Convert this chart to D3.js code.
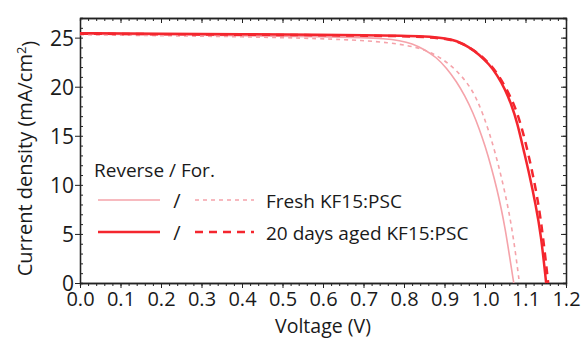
<!DOCTYPE html>
<html>
<head>
<meta charset="utf-8">
<script src="https://cdn.jsdelivr.net/npm/d3@7"></script>
<style>
  body { margin: 0; background: #fff; }
  svg text { font-family: "Open Sans", sans-serif; fill: #1a1a1a; }
  .axis path, .axis line { stroke: #222; }
</style>
</head>
<body>
<script>
// J-V curves, voltage (V) and current density (mA/cm2)
var freshRevV = [0, 0.2, 0.4, 0.6, 0.7, 0.75, 0.79, 0.82, 0.85, 0.88, 0.905, 0.93, 0.95, 0.971, 0.985, 1.0, 1.015, 1.03, 1.04, 1.05, 1.06, 1.071];
var freshRevJ = [25.35, 25.3, 25.2, 25.1, 25.0, 24.9, 24.7, 24.4, 23.8, 23.0, 21.9, 20.5, 19.1, 17.3, 15.8, 14.0, 11.9, 9.5, 7.6, 5.5, 2.9, 0];

var freshForV = [0, 0.2, 0.4, 0.6, 0.7, 0.76, 0.81, 0.85, 0.885, 0.915, 0.94, 0.963, 0.98, 0.995, 1.01, 1.025, 1.04, 1.055, 1.065, 1.075, 1.085];
var freshForJ = [25.3, 25.2, 25.1, 24.9, 24.7, 24.5, 24.2, 23.8, 23.1, 22.2, 21.2, 20.0, 18.7, 17.2, 15.4, 13.3, 10.9, 8.1, 5.9, 3.2, 0];

var agedRevV = [0, 0.2, 0.4, 0.6, 0.7, 0.8, 0.85, 0.9, 0.93, 0.96, 0.985, 1.01, 1.03, 1.05, 1.065, 1.08, 1.095, 1.11, 1.125, 1.138, 1.151];
var agedRevJ = [25.45, 25.4, 25.35, 25.3, 25.25, 25.2, 25.12, 24.95, 24.7, 24.05, 23.3, 22.3, 21.2, 19.7, 18.2, 16.3, 13.6, 11.0, 8.0, 5.0, 0];

var agedForV = [0, 0.2, 0.4, 0.6, 0.7, 0.8, 0.85, 0.9, 0.93, 0.96, 0.985, 1.01, 1.03, 1.05, 1.065, 1.08, 1.095, 1.11, 1.125, 1.14, 1.156];
var agedForJ = [25.4, 25.35, 25.3, 25.25, 25.2, 25.15, 25.07, 24.9, 24.65, 24.05, 23.35, 22.4, 21.4, 20.0, 18.8, 17.3, 15.2, 12.6, 9.7, 6.0, 0];

var seriesNames = ["Fresh KF15:PSC", "20 days aged KF15:PSC"];
var xTicks = [0, 0.1, 0.2, 0.3, 0.4, 0.5, 0.6, 0.7, 0.8, 0.9, 1.0, 1.1, 1.2];
var yTicks = [0, 5, 10, 15, 20, 25];

var width = 584, height = 340;
var margin = {left: 80, right: 18, top: 18, bottom: 57};
var w = width - margin.left - margin.right;
var h = height - margin.top - margin.bottom;

var freshColor = "#f5a3aa", agedColor = "#f4262e";

var svg = d3.select("body").append("svg").attr("width", width).attr("height", height);
var g = svg.append("g").attr("transform", "translate(" + margin.left + "," + margin.top + ")");

var x = d3.scaleLinear().domain([0, 1.2]).range([0, w]);
var y = d3.scaleLinear().domain([0, 27]).range([h, 0]);

var xMinor = d3.range(0, 1.2001, 0.02);
var yMinor = d3.range(0, 27.001, 1);

// minor ticks
g.append("g").attr("class", "axis").attr("transform", "translate(0," + h + ")")
  .call(d3.axisBottom(x).tickValues(xMinor).tickSize(3).tickFormat(""));
g.append("g").attr("class", "axis")
  .call(d3.axisLeft(y).tickValues(yMinor).tickSize(-3).tickFormat(""));
g.append("g").attr("class", "axis")
  .call(d3.axisTop(x).tickValues(xMinor).tickSize(-3).tickFormat(""));
g.append("g").attr("class", "axis").attr("transform", "translate(" + w + ",0)")
  .call(d3.axisRight(y).tickValues(yMinor).tickSize(-3).tickFormat(""));

// major ticks
g.append("g").attr("class", "axis x").attr("transform", "translate(0," + h + ")")
  .call(d3.axisBottom(x).tickValues(xTicks).tickSize(5).tickSizeOuter(0).tickFormat(d3.format(".1f")))
  .call(function(a){ a.selectAll("text").attr("y", 9).attr("dy", "0.71em").style("font-size", "20px"); });
g.append("g").attr("class", "axis y")
  .call(d3.axisLeft(y).tickValues(yTicks).tickSize(5).tickSizeOuter(0))
  .call(function(a){ a.selectAll("text").attr("x", -6).attr("dy", "0.36em").style("font-size", "21px"); });
g.append("g").attr("class", "axis")
  .call(d3.axisTop(x).tickValues(xTicks).tickSize(-5).tickSizeOuter(0).tickFormat(""));
g.append("g").attr("class", "axis").attr("transform", "translate(" + w + ",0)")
  .call(d3.axisRight(y).tickValues(yTicks).tickSize(-5).tickSizeOuter(0).tickFormat(""));
g.selectAll(".axis path").attr("stroke-width", 1.3);

var line = d3.line()
  .x(function(d){ return x(d[0]); })
  .y(function(d){ return y(d[1]); })
  .curve(d3.curveBasis);

function pairs(vs, js) { return vs.map(function(v, i){ return [v, js[i]]; }); }

var curves = [
  {data: pairs(freshRevV, freshRevJ), color: freshColor, width: 1.6, dash: null},
  {data: pairs(freshForV, freshForJ), color: freshColor, width: 1.6, dash: "4,4"},
  {data: pairs(agedRevV, agedRevJ), color: agedColor, width: 2.5, dash: null},
  {data: pairs(agedForV, agedForJ), color: agedColor, width: 2.5, dash: "8,6"}
];

g.selectAll("path.curve").data(curves).enter().append("path")
  .attr("class", "curve")
  .attr("d", function(d){ return line(d.data); })
  .attr("fill", "none")
  .attr("stroke", function(d){ return d.color; })
  .attr("stroke-width", function(d){ return d.width; })
  .attr("stroke-dasharray", function(d){ return d.dash; });

// legend
var lg = svg.append("g");
lg.append("text").attr("x", 94).attr("y", 177).style("font-size", "19px").text("Reverse /  For.");
var rows = [
  {name: seriesNames[0], color: freshColor, width: 1.6, dash: "4,4", y: 200},
  {name: seriesNames[1], color: agedColor, width: 2.5, dash: "8,6", y: 232}
];
rows.forEach(function(r){
  lg.append("line").attr("x1", 98).attr("x2", 160).attr("y1", r.y).attr("y2", r.y)
    .attr("stroke", r.color).attr("stroke-width", r.width);
  lg.append("text").attr("x", 177).attr("y", r.y + 8).attr("text-anchor", "middle")
    .style("font-size", "20px").text("/");
  lg.append("line").attr("x1", 195).attr("x2", 254).attr("y1", r.y).attr("y2", r.y)
    .attr("stroke", r.color).attr("stroke-width", r.width).attr("stroke-dasharray", r.dash);
  lg.append("text").attr("x", 266).attr("y", r.y + 8).style("font-size", "19px").text(r.name);
});

// axis titles
svg.append("text").attr("text-anchor", "middle")
  .attr("x", margin.left + w / 2).attr("y", 333)
  .style("font-size", "19.5px").text("Voltage (V)");

var yt = svg.append("text").attr("text-anchor", "middle")
  .attr("transform", "translate(32," + (margin.top + h / 2 + 8) + ")rotate(-90)")
  .style("font-size", "20px");
yt.append("tspan").text("Current density (mA/cm");
yt.append("tspan").attr("dy", "-0.5em").style("font-size", "13px").text("2");
yt.append("tspan").attr("dy", "0.5em").text(")");
</script>
</body>
</html>
